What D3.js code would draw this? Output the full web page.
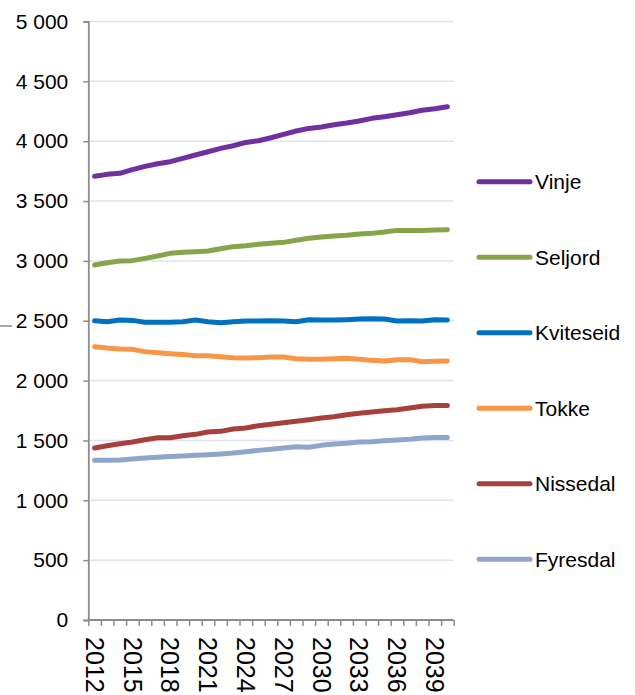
<!DOCTYPE html>
<html>
<head>
<meta charset="utf-8">
<script src="https://cdn.jsdelivr.net/npm/d3@7"></script>
<style>
  body { margin: 0; background: #fff; }
  text { font-family: "Liberation Sans", Arial, sans-serif; fill: #000; }
</style>
</head>
<body>
<div id="chart"></div>
<script>
var years = d3.range(2012, 2041);
var yTicks = [0, 500, 1000, 1500, 2000, 2500, 3000, 3500, 4000, 4500, 5000];

var names = ["Vinje", "Seljord", "Kviteseid", "Tokke", "Nissedal", "Fyresdal"];
var colors = ["#7030a0", "#86a44a", "#0070c0", "#f79646", "#a7403c", "#8ea6cc"];

var vinje = [3707, 3723, 3732, 3762, 3790, 3812, 3829, 3857, 3885, 3912, 3940, 3962, 3990, 4004, 4029,
  4057, 4085, 4107, 4118, 4138, 4152, 4169, 4191, 4205, 4221, 4238, 4258, 4271, 4288];
var seljord = [2966, 2985, 2999, 3002, 3021, 3041, 3063, 3072, 3077, 3083, 3102, 3119, 3127, 3139, 3147,
  3155, 3172, 3189, 3200, 3208, 3214, 3225, 3230, 3241, 3255, 3255, 3255, 3258, 3261];
var kviteseid = [2500, 2492, 2506, 2503, 2487, 2487, 2487, 2492, 2506, 2492, 2484, 2492, 2498, 2498, 2500,
  2498, 2492, 2509, 2506, 2506, 2509, 2514, 2517, 2514, 2498, 2500, 2498, 2509, 2506];
var tokke = [2283, 2272, 2264, 2261, 2242, 2233, 2225, 2219, 2208, 2208, 2200, 2191, 2189, 2191, 2197,
  2197, 2183, 2178, 2178, 2183, 2186, 2178, 2169, 2164, 2175, 2175, 2158, 2161, 2164];
var nissedal = [1437, 1456, 1473, 1487, 1506, 1523, 1523, 1540, 1551, 1571, 1576, 1596, 1604, 1623, 1635,
  1648, 1660, 1673, 1688, 1698, 1715, 1727, 1738, 1749, 1757, 1771, 1785, 1792, 1792];
var fyresdal = [1334, 1334, 1337, 1345, 1353, 1359, 1365, 1370, 1376, 1381, 1387, 1395, 1406, 1417, 1426,
  1437, 1448, 1443, 1459, 1470, 1476, 1487, 1490, 1498, 1504, 1510, 1520, 1524, 1524];

var series = [vinje, seljord, kviteseid, tokke, nissedal, fyresdal];

var width = 635, height = 695;
var plotLeft = 88.3, plotRight = 453.7, plotTop = 21.5, plotBottom = 620;

var svg = d3.select('#chart')
  .append('svg')
  .attr('width', width)
  .attr('height', height);

var x = d3.scaleBand().domain(years).range([plotLeft, plotRight]).padding(0);
var y = d3.scaleLinear().domain([0, 5000]).range([plotBottom, plotTop]);

var fmt = d3.formatLocale({decimal: ",", thousands: "\u00a0", grouping: [3], currency: ["", ""]}).format(",d");

// gridlines
svg.append('g')
  .selectAll('line')
  .data(yTicks.slice(1))
  .enter()
  .append('line')
  .attr('x1', plotLeft).attr('x2', plotRight)
  .attr('y1', function(d) { return y(d); })
  .attr('y2', function(d) { return y(d); })
  .attr('stroke', '#dbe4f0')
  .attr('stroke-width', 1.5);

// y axis
var yAxis = svg.append('g')
  .attr('transform', 'translate(' + plotLeft + ',0)')
  .call(d3.axisLeft(y).tickValues(yTicks).tickSize(5).tickPadding(15).tickFormat(fmt));
yAxis.select('.domain').attr('stroke', '#8c8c8c').attr('stroke-width', 1.8);
yAxis.selectAll('.tick line').attr('stroke', '#8c8c8c').attr('stroke-width', 1.5);
yAxis.selectAll('text').style('font-size', '21px').attr('fill', '#000');

// x axis tick marks between categories
var xb = d3.scaleLinear().domain([0, years.length]).range([plotLeft, plotRight]);
var xAxis = svg.append('g')
  .attr('transform', 'translate(0,' + plotBottom + ')')
  .call(d3.axisBottom(xb).tickValues(d3.range(years.length + 1)).tickSize(6).tickFormat(''));
xAxis.select('.domain').attr('stroke', '#8c8c8c').attr('stroke-width', 1.8).attr('d', 'M' + plotLeft + ',0H' + plotRight);
xAxis.selectAll('.tick line').attr('stroke', '#8c8c8c').attr('stroke-width', 1.5);

// x labels every 3 years, rotated
svg.append('g')
  .selectAll('text')
  .data(years.filter(function(d, i) { return i % 3 === 0; }))
  .enter()
  .append('text')
  .attr('transform', function(d) {
    return 'translate(' + (x(d) + x.bandwidth() / 2) + ',637) rotate(90)';
  })
  .attr('dy', '0.35em')
  .style('font-size', '25px')
  .text(function(d) { return d; });

// lines
var line = d3.line()
  .x(function(d, i) { return x(years[i]) + x.bandwidth() / 2; })
  .y(function(d) { return y(d); });

svg.append('g')
  .selectAll('path')
  .data(series)
  .enter()
  .append('path')
  .attr('d', line)
  .attr('fill', 'none')
  .attr('stroke', function(d, i) { return colors[i]; })
  .attr('stroke-width', 5)
  .attr('stroke-linecap', 'round')
  .attr('stroke-linejoin', 'round');

// legend
var legend = svg.append('g')
  .selectAll('g')
  .data(names)
  .enter()
  .append('g')
  .attr('transform', function(d, i) { return 'translate(0,' + (181.7 + i * 75.5) + ')'; });

legend.append('line')
  .attr('x1', 479).attr('x2', 530)
  .attr('y1', 0).attr('y2', 0)
  .attr('stroke', function(d, i) { return colors[i]; })
  .attr('stroke-width', 5)
  .attr('stroke-linecap', 'round');

legend.append('text')
  .attr('x', 535)
  .attr('dy', '0.36em')
  .style('font-size', '21px')
  .text(function(d) { return d; });

// small stray mark at left edge
svg.append('line')
  .attr('x1', 0).attr('x2', 12)
  .attr('y1', 326).attr('y2', 326)
  .attr('stroke', '#8c8c8c')
  .attr('stroke-width', 1.5);
</script>
</body>
</html>
